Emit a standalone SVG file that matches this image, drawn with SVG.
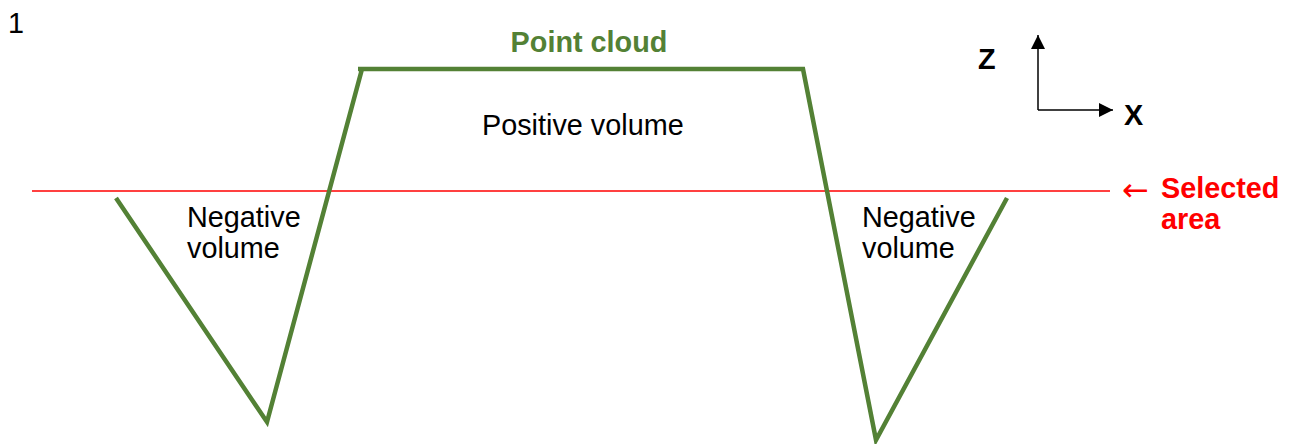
<svg xmlns="http://www.w3.org/2000/svg" width="1290" height="444" viewBox="0 0 1290 444">
<style>
.t{font-family:"Liberation Sans",Arial,sans-serif;font-size:28.8px;fill:#000}
.b{font-weight:bold}
.g{fill:#538135}
.r{fill:#ff0000}
.cloud{fill:none;stroke:#538135;stroke-width:4.5;stroke-linejoin:miter;stroke-linecap:butt}
.ax{stroke:#000;stroke-width:1.5;fill:none}
</style>
<defs>
<marker id="ah2" viewBox="0 0 14 14" refX="14" refY="7" markerWidth="14" markerHeight="14" markerUnits="userSpaceOnUse" orient="auto">
<path d="M0,0 L14,7 L0,14 z" fill="#000"/>
</marker>
</defs>
<rect width="1290" height="444" fill="#fff"/>
<text class="t" x="8" y="33">1</text>
<g id="selected-line">
<line x1="32" y1="191" x2="1110" y2="191" stroke="#ff0000" stroke-width="1.6"/>
</g>
<g id="point-cloud">
<polyline class="cloud" points="116,198 267,422 362,69 358,69 803,69 876,440 1007,198"/>
<text class="t b g" x="589" y="52" text-anchor="middle">Point cloud</text>
</g>
<g id="positive-volume">
<text class="t" x="482" y="135">Positive volume</text>
</g>
<g id="negative-left">
<text class="t" x="187" y="227">Negative</text>
<text class="t" x="187" y="258">volume</text>
</g>
<g id="negative-right">
<text class="t" x="862" y="227">Negative</text>
<text class="t" x="862" y="258">volume</text>
</g>
<g id="axes">
<line class="ax" x1="1038" y1="110" x2="1038" y2="35" marker-end="url(#ah2)"/>
<line class="ax" x1="1038" y1="110" x2="1113" y2="110" marker-end="url(#ah2)"/>
<text class="t b" x="978" y="69">Z</text>
<text class="t b" x="1124" y="125">X</text>
</g>
<g id="selected-area">
<text x="1122" y="201" style="font-family:'DejaVu Sans',sans-serif;font-size:32px;fill:#ff0000;font-weight:normal">←</text>
<text class="t b r" x="1161" y="198">Selected</text>
<text class="t b r" x="1161" y="229">area</text>
</g>
</svg>
